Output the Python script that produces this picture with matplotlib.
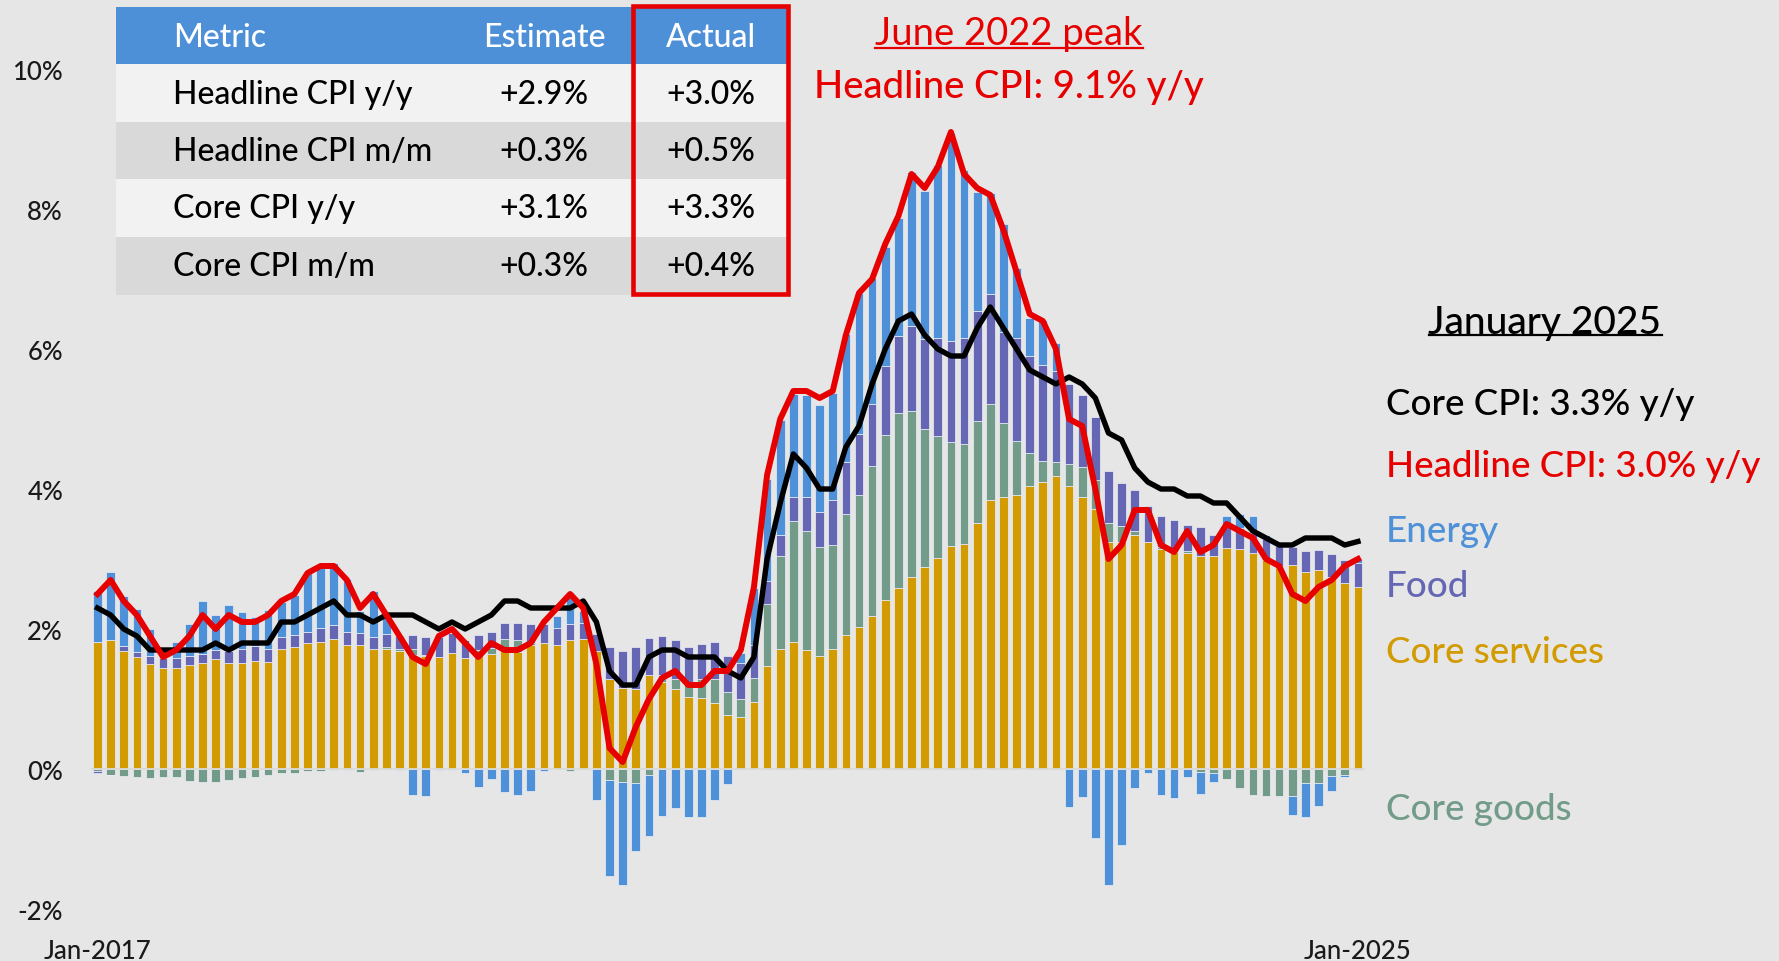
import numpy as np
import matplotlib
matplotlib.use("Agg")
import matplotlib.pyplot as plt
from matplotlib.lines import Line2D
from matplotlib.patches import Rectangle

# ------------------------------------------------------------------
# Data: contributions to headline CPI y/y (pp), Jan-2017 .. Jan-2025
# ------------------------------------------------------------------
CORE_SERVICES = [
    1.82, 1.85, 1.69, 1.60, 1.50, 1.45, 1.44, 1.48, 1.51, 1.57, 1.51, 1.52,  # 2017
    1.54, 1.53, 1.71, 1.74, 1.80, 1.82, 1.86, 1.77, 1.77, 1.72, 1.72, 1.68,  # 2018
    1.63, 1.61, 1.60, 1.66, 1.59, 1.64, 1.65, 1.71, 1.67, 1.77, 1.80, 1.77,  # 2019
    1.84, 1.86, 1.68, 1.29, 1.16, 1.14, 1.34, 1.25, 1.14, 1.03, 1.02, 0.94,  # 2020
    0.77, 0.74, 0.96, 1.47, 1.72, 1.82, 1.70, 1.61, 1.72, 1.91, 2.03, 2.18,  # 2021
    2.42, 2.59, 2.75, 2.88, 3.02, 3.18, 3.21, 3.51, 3.84, 3.88, 3.92, 4.05,  # 2022
    4.10, 4.18, 4.04, 3.88, 3.71, 3.24, 3.24, 3.35, 3.25, 3.14, 3.10, 3.08,  # 2023
    3.05, 3.05, 3.16, 3.14, 3.09, 2.98, 2.90, 2.92, 2.82, 2.85, 2.75, 2.66,  # 2024
    2.60,
]
CORE_GOODS = [
    -0.03, -0.08, -0.10, -0.11, -0.13, -0.12, -0.11, -0.17, -0.18, -0.18, -0.16, -0.13,
    -0.12, -0.09, -0.05, -0.05, -0.03, -0.03, -0.01, -0.02, -0.04, -0.01, 0.03, 0.03,
    0.08, 0.02, 0.00, -0.02, 0.00, 0.06, 0.08, 0.15, 0.18, 0.03, 0.00, 0.00,
    -0.03, 0.00, 0.00, -0.15, -0.18, -0.20, -0.09, 0.10, 0.15, 0.22, 0.26, 0.34,
    0.33, 0.26, 0.34, 0.89, 1.32, 1.73, 1.70, 1.56, 1.48, 1.73, 1.89, 2.15,
    2.35, 2.49, 2.36, 1.98, 1.74, 1.49, 1.43, 1.46, 1.38, 1.06, 0.76, 0.46,
    0.30, 0.21, 0.32, 0.43, 0.42, 0.27, 0.23, 0.05, 0.00, 0.03, 0.00, 0.04,
    -0.04, -0.06, -0.14, -0.27, -0.37, -0.39, -0.39, -0.39, -0.20, -0.20, -0.10, -0.08,
    -0.01,
]
FOOD = [
    -0.02, -0.01, 0.07, 0.07, 0.12, 0.14, 0.14, 0.14, 0.13, 0.13, 0.18, 0.20,
    0.22, 0.19, 0.18, 0.18, 0.16, 0.20, 0.20, 0.19, 0.18, 0.16, 0.18, 0.19,
    0.20, 0.25, 0.28, 0.29, 0.26, 0.21, 0.23, 0.23, 0.24, 0.27, 0.27, 0.24,
    0.23, 0.23, 0.25, 0.46, 0.52, 0.60, 0.53, 0.55, 0.56, 0.50, 0.50, 0.54,
    0.52, 0.51, 0.47, 0.32, 0.30, 0.34, 0.48, 0.50, 0.64, 0.74, 0.86, 0.89,
    0.99, 1.10, 1.22, 1.29, 1.40, 1.44, 1.52, 1.58, 1.57, 1.31, 1.48, 1.39,
    1.37, 1.29, 1.14, 1.03, 0.90, 0.75, 0.61, 0.58, 0.51, 0.45, 0.46, 0.37,
    0.41, 0.30, 0.32, 0.30, 0.28, 0.30, 0.28, 0.25, 0.30, 0.28, 0.32, 0.32,
    0.35,
]
ENERGY = [
    0.73, 0.97, 0.71, 0.62, 0.38, 0.14, 0.24, 0.45, 0.76, 0.50, 0.66, 0.52,
    0.41, 0.55, 0.50, 0.56, 0.85, 0.87, 0.89, 0.76, 0.31, 0.67, 0.28, -0.02,
    -0.37, -0.39, -0.02, 0.00, -0.06, -0.26, -0.14, -0.33, -0.37, -0.31, -0.03, 0.18,
    0.45, 0.17, -0.44, -1.38, -1.48, -0.97, -0.86, -0.67, -0.56, -0.68, -0.69, -0.44,
    -0.22, 0.15, 0.81, 1.46, 1.64, 1.47, 1.47, 1.53, 1.53, 1.84, 2.02, 1.79,
    1.70, 1.69, 2.20, 2.11, 2.47, 2.97, 2.39, 1.70, 1.44, 1.53, 0.99, 0.55,
    0.64, 0.40, -0.54, -0.40, -0.99, -1.65, -1.09, -0.27, -0.06, -0.37, -0.41, -0.12,
    -0.32, -0.12, 0.14, 0.20, 0.25, 0.07, 0.07, -0.27, -0.49, -0.33, -0.21, -0.03,
    0.05,
]
HEADLINE = [
    2.5, 2.7, 2.4, 2.2, 1.9, 1.6, 1.7, 1.9, 2.2, 2.0, 2.2, 2.1,
    2.1, 2.2, 2.4, 2.5, 2.8, 2.9, 2.9, 2.7, 2.3, 2.5, 2.2, 1.9,
    1.6, 1.5, 1.9, 2.0, 1.8, 1.6, 1.8, 1.7, 1.7, 1.8, 2.1, 2.3,
    2.5, 2.3, 1.5, 0.3, 0.1, 0.6, 1.0, 1.3, 1.4, 1.2, 1.2, 1.4,
    1.4, 1.7, 2.6, 4.2, 5.0, 5.4, 5.4, 5.3, 5.4, 6.2, 6.8, 7.0,
    7.5, 7.9, 8.5, 8.3, 8.6, 9.1, 8.5, 8.3, 8.2, 7.7, 7.1, 6.5,
    6.4, 6.0, 5.0, 4.9, 4.0, 3.0, 3.2, 3.7, 3.7, 3.2, 3.1, 3.4,
    3.1, 3.2, 3.5, 3.4, 3.3, 3.0, 2.9, 2.5, 2.4, 2.6, 2.7, 2.9,
    3.0,
]
CORE = [
    2.3, 2.2, 2.0, 1.9, 1.7, 1.7, 1.7, 1.7, 1.7, 1.8, 1.7, 1.8,
    1.8, 1.8, 2.1, 2.1, 2.2, 2.3, 2.4, 2.2, 2.2, 2.1, 2.2, 2.2,
    2.2, 2.1, 2.0, 2.1, 2.0, 2.1, 2.2, 2.4, 2.4, 2.3, 2.3, 2.3,
    2.3, 2.4, 2.1, 1.4, 1.2, 1.2, 1.6, 1.7, 1.7, 1.6, 1.6, 1.6,
    1.4, 1.3, 1.6, 3.0, 3.8, 4.5, 4.3, 4.0, 4.0, 4.6, 4.9, 5.5,
    6.0, 6.4, 6.5, 6.2, 6.0, 5.9, 5.9, 6.3, 6.6, 6.3, 6.0, 5.7,
    5.6, 5.5, 5.6, 5.5, 5.3, 4.8, 4.7, 4.3, 4.1, 4.0, 4.0, 3.9,
    3.9, 3.8, 3.8, 3.6, 3.4, 3.3, 3.2, 3.2, 3.3, 3.3, 3.3, 3.2,
    3.25,
]
XTICK_POS = [0, 96]
XTICK_LABELS = ["Jan-2017", "Jan-2025"]
YTICKS = [-2, 0, 2, 4, 6, 8, 10]

TABLE_HEADER = ["Metric", "Estimate", "Actual"]
TABLE_METRICS = ["Headline CPI y/y", "Headline CPI m/m", "Core CPI y/y", "Core CPI m/m"]
TABLE_ESTIMATE = ["+2.9%", "+0.3%", "+3.1%", "+0.3%"]
TABLE_ACTUAL = ["+3.0%", "+0.5%", "+3.3%", "+0.4%"]

# ------------------------------------------------------------------
# Style
# ------------------------------------------------------------------
BG = "#E6E6E6"
GOLD = "#D39B02"
GREEN = "#729C89"
PURPLE = "#6667B4"
BLUE = "#4E91D8"
RED = "#E60000"
FONT = ["Lato", "DejaVu Sans"]
WEIGHT = "medium"

W, H, DPI = 1779, 962, 100
plt.rcParams["font.family"] = FONT
plt.rcParams["font.weight"] = WEIGHT


def fx(px):
    return px / W


def fy(py):
    return 1 - py / H


fig = plt.figure(figsize=(W / DPI, H / DPI), dpi=DPI, facecolor=BG)
ax = fig.add_axes([fx(90.9), fy(910), (1364.5 - 90.9) / W, 840 / H])
ax.set_facecolor(BG)

n = len(CORE_SERVICES)
x = np.arange(n)

# stacked bars, positives up and negatives down
pos_base = np.zeros(n)
neg_base = np.zeros(n)
for vals, col in [(CORE_SERVICES, GOLD), (CORE_GOODS, GREEN),
                  (FOOD, PURPLE), (ENERGY, BLUE)]:
    v = np.asarray(vals, dtype=float)
    bottom = np.where(v >= 0, pos_base, neg_base)
    ax.bar(x, v, width=0.66, bottom=bottom, color=col,
           edgecolor="#EEF0F6", linewidth=0.5, zorder=2)
    pos_base += np.clip(v, 0, None)
    neg_base += np.clip(v, None, 0)

ax.axhline(0, color="#DADADA", lw=1.3, zorder=3)

ax.plot(x, CORE, color="black", lw=3.9, zorder=4, solid_joinstyle="round")
ax.plot(x, HEADLINE, color=RED, lw=4.3, zorder=5, solid_joinstyle="round")

ax.set_xlim(-0.5, n - 0.5)
ax.set_ylim(-2, 10)
ax.set_yticks(YTICKS)
ax.set_yticklabels([f"{v}%" for v in YTICKS], fontsize=18.5, color="#1a1a1a")
ax.set_xticks(XTICK_POS)
ax.set_xticklabels(XTICK_LABELS, fontsize=18.5, color="#1a1a1a")
ax.tick_params(axis="y", length=0, pad=20)
ax.tick_params(axis="x", length=0, pad=21)
for s in ax.spines.values():
    s.set_visible(False)

# ------------------------------------------------------------------
# Table (top left)
# ------------------------------------------------------------------
tab_x0, tab_x1 = 115.6, 787
row_edges = [8, 65, 123, 180, 238, 296]
row_colors = ["#4E90D8", "#F2F2F2", "#D9D9D9", "#F2F2F2", "#D9D9D9"]
baselines = [47, 103.5, 161, 218.5, 276]
for k, col in enumerate(row_colors):
    y0, y1 = row_edges[k], row_edges[k + 1]
    fig.add_artist(Rectangle((fx(tab_x0), fy(y1)), fx(tab_x1 - tab_x0), (y1 - y0) / H,
                             transform=fig.transFigure, facecolor=col,
                             edgecolor="none", zorder=6))

col_x = [173, 544, 711]
col_ha = ["left", "center", "center"]
for j, txt in enumerate(TABLE_HEADER):
    fig.text(fx(col_x[j]), fy(baselines[0]), txt, ha=col_ha[j], va="baseline",
             fontsize=23, color="white", zorder=7)
for r in range(len(TABLE_METRICS)):
    for j, txt in enumerate([TABLE_METRICS[r], TABLE_ESTIMATE[r], TABLE_ACTUAL[r]]):
        fig.text(fx(col_x[j]), fy(baselines[r + 1]), txt, ha=col_ha[j],
                 va="baseline", fontsize=23, color="black", zorder=7)

# red box around the "Actual" column
fig.add_artist(Rectangle((fx(633), fy(295)), fx(788 - 633), (295 - 7) / H,
                         transform=fig.transFigure, facecolor="none",
                         edgecolor=RED, linewidth=3.3, zorder=8))

# ------------------------------------------------------------------
# Annotations
# ------------------------------------------------------------------
underlined = []
t = fig.text(fx(1009), fy(45), "June 2022 peak", ha="center", va="baseline",
             fontsize=27.5, color=RED, fontweight="normal")
underlined.append((t, RED, 4))
fig.text(fx(1009), fy(98), "Headline CPI: 9.1% y/y", ha="center", va="baseline",
         fontsize=27.5, color=RED)

t = fig.text(fx(1545), fy(334), "January 2025", ha="center", va="baseline",
             fontsize=28, color="black")
underlined.append((t, "black", 2))

side = [
    ("Core CPI: 3.3% y/y", "black", 415),
    ("Headline CPI: 3.0% y/y", RED, 477),
    ("Energy", BLUE, 542),
    ("Food", PURPLE, 597),
    ("Core services", GOLD, 663),
    ("Core goods", GREEN, 820),
]
for txt, col, base in side:
    fig.text(fx(1386), fy(base), txt, ha="left", va="baseline",
             fontsize=26.5, color=col)

# underline texts using their rendered extents
fig.canvas.draw()
renderer = fig.canvas.get_renderer()
for t, col, off in underlined:
    bb = t.get_window_extent(renderer)
    base_y = t.get_position()[1] - off / H
    fig.add_artist(Line2D([bb.x0 / W, bb.x1 / W], [base_y, base_y],
                          transform=fig.transFigure, color=col, lw=1.6))

fig.savefig("out.png", dpi=DPI, facecolor=BG)
plt.close(fig)
